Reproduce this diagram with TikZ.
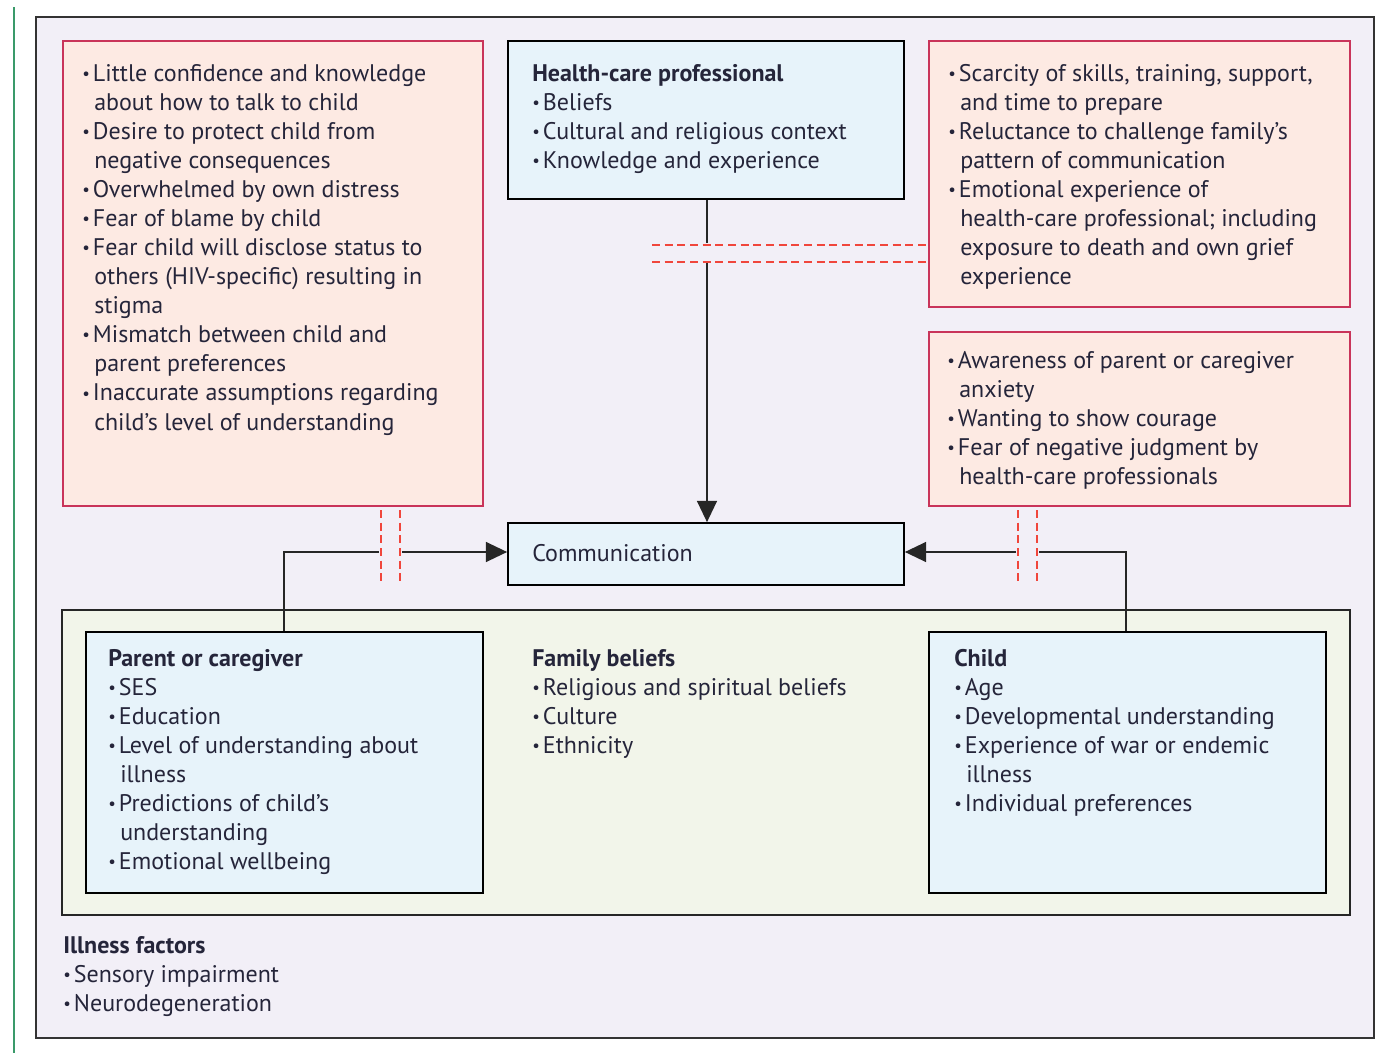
\documentclass[tikz,border=0pt]{standalone}
\usepackage{fontspec}
\usepackage{graphicx}
\setmainfont{PT Sans}
\usetikzlibrary{arrows.meta,fit}
\definecolor{bgout}{HTML}{F2EFF7}
\definecolor{redfill}{HTML}{FDEAE3}
\definecolor{redline}{HTML}{C9345A}
\definecolor{bluefill}{HTML}{E7F3FA}
\definecolor{greenfill}{HTML}{F2F5EA}
\definecolor{dashred}{HTML}{F0463C}
\definecolor{txt}{HTML}{25253A}
\definecolor{greenbar}{HTML}{3A9A6A}
\definecolor{frame}{HTML}{333333}
\newcommand\bl{\makebox[8pt][l]{\raisebox{0.08em}{\scalebox{0.7}{\textbullet}}}}
\newcommand\ct{\hspace*{9pt}}
\tikzset{
  redbox/.style={draw=redline, fill=redfill, line width=1.3pt, inner sep=0pt},
  bluebox/.style={draw=black, fill=bluefill, line width=1.3pt, inner sep=0pt},
  greenbox/.style={draw=black!85, fill=greenfill, line width=1.3pt, inner sep=0pt},
  txtblock/.style={anchor=north west, inner sep=0pt, align=left, text=txt,
    font=\fontsize{18}{21.8}\selectfont},
  conn/.style={draw=black!85, line width=1.3pt},
  arr/.style={conn, -{Triangle[length=16pt,width=15pt]}},
  dsh/.style={draw=dashred, line width=1.3pt, dash pattern=on 6pt off 3.5pt},
}
\begin{document}
\begin{tikzpicture}[x=0.75pt,y=-0.75pt]
\useasboundingbox (0,0) rectangle (1375,1053);
\fill[white] (0,0) rectangle (1375,1053);
\draw[greenbar, line width=1.5pt] (14,7) -- (14,1053);
\draw[draw=frame, fill=bgout, line width=1.5pt] (36,17) rectangle (1374,1038);

% boxes
\node[redbox, fit={(63,41) (483,506)}] (lt) {};
\node[bluebox, fit={(508,41) (904,199)}] (hcp) {};
\node[redbox, fit={(929,41) (1350,307)}] (rt) {};
\node[redbox, fit={(929,332) (1350,506)}] (rm) {};
\node[bluebox, fit={(508,523) (904,585)}] (comm) {};
\node[greenbox, fit={(62,610) (1350,915)}] (fam) {};
\node[bluebox, fit={(86,632) (483,893)}] (par) {};
\node[bluebox, fit={(929,632) (1326,893)}] (chi) {};

% texts
\node[txtblock] (ltt) at (82,64) {\bl Little confidence and knowledge\\
\ct about how to talk to child\\
\bl Desire to protect child from\\
\ct negative consequences\\
\bl Overwhelmed by own distress\\
\bl Fear of blame by child\\
\bl Fear child will disclose status to\\
\ct others (HIV-specific) resulting in\\
\ct stigma\\
\bl Mismatch between child and\\
\ct parent preferences\\
\bl Inaccurate assumptions regarding\\
\ct child’s level of understanding};

\node[txtblock] (hcpt) at (532,64) {\textbf{Health-care professional}\\
\bl Beliefs\\
\bl Cultural and religious context\\
\bl Knowledge and experience};

\node[txtblock] (rtt) at (948,64) {\bl Scarcity of skills, training, support,\\
\ct and time to prepare\\
\bl Reluctance to challenge family’s\\
\ct pattern of communication\\
\bl Emotional experience of\\
\ct health-care professional; including\\
\ct exposure to death and own grief\\
\ct experience};

\node[txtblock] (rmt) at (947,351) {\bl Awareness of parent or caregiver\\
\ct anxiety\\
\bl Wanting to show courage\\
\bl Fear of negative judgment by\\
\ct health-care professionals};

\node[txtblock] (commt) at (532,544) {Communication};

\node[txtblock] (part) at (108,649) {\textbf{Parent or caregiver}\\
\bl SES\\
\bl Education\\
\bl Level of understanding about\\
\ct illness\\
\bl Predictions of child’s\\
\ct understanding\\
\bl Emotional wellbeing};

\node[txtblock] (famt) at (532,649) {\textbf{Family beliefs}\\
\bl Religious and spiritual beliefs\\
\bl Culture\\
\bl Ethnicity};

\node[txtblock] (chit) at (954,649) {\textbf{Child}\\
\bl Age\\
\bl Developmental understanding\\
\bl Experience of war or endemic\\
\ct illness\\
\bl Individual preferences};

\node[txtblock] (ill) at (63,936) {\textbf{Illness factors}\\
\bl Sensory impairment\\
\bl Neurodegeneration};

% connectors
\coordinate (v1) at (707,243);
\coordinate (v2) at (707,263);
\draw[conn] (hcp.south -| v1) -- (v1);
\draw[arr] (v2) -- (comm.north -| v2);
\draw[dsh] (652,245) -- (rt.west |- 0,245);
\draw[dsh] (652,262) -- (rt.west |- 0,262);

\coordinate (l1) at (379,552);
\coordinate (l2) at (402,552);
\draw[conn] (par.north -| 284,0) -- (284,552) -- (l1);
\draw[arr] (l2) -- (comm.west |- l2);
\draw[dsh] (381,510) -- (381,585);
\draw[dsh] (400,510) -- (400,585);

\coordinate (r1) at (1016,552);
\coordinate (r2) at (1039,552);
\draw[conn] (chi.north -| 1126,0) -- (1126,552) -- (r2);
\draw[arr] (r1) -- (comm.east |- r1);
\draw[dsh] (1018,510) -- (1018,585);
\draw[dsh] (1037,510) -- (1037,585);
\end{tikzpicture}
\end{document}
